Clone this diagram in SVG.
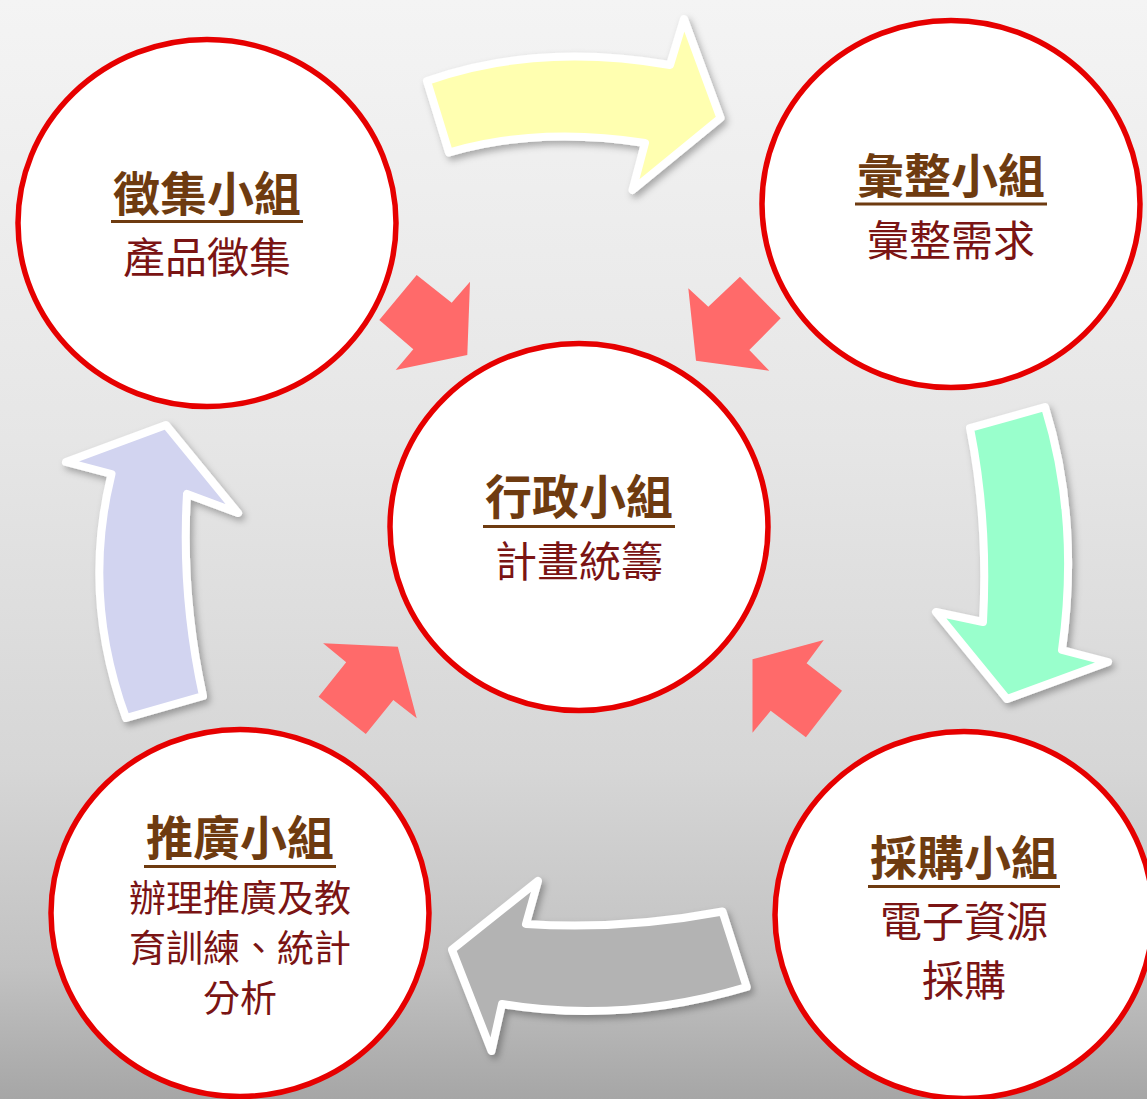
<svg xmlns="http://www.w3.org/2000/svg" width="1147" height="1099" viewBox="0 0 1147 1099">
  <defs>
    <linearGradient id="bg" x1="0" y1="0" x2="0" y2="1">
      <stop offset="0" stop-color="#F4F4F4"/>
      <stop offset="0.4" stop-color="#E6E6E6"/>
      <stop offset="0.7" stop-color="#D6D6D6"/>
      <stop offset="0.88" stop-color="#C2C2C2"/>
      <stop offset="1" stop-color="#A6A6A6"/>
    </linearGradient>
    <filter id="shadow" x="-20%" y="-20%" width="140%" height="140%">
      <feDropShadow dx="3" dy="4" stdDeviation="3.5" flood-color="#000" flood-opacity="0.3"/>
    </filter>
    <style>
      .ring { fill: #FFFFFF; stroke: #E60000; stroke-width: 5.5; }
      .big { stroke: #FFFFFF; stroke-width: 8; stroke-linejoin: round; filter: url(#shadow); }
      .red { fill: #FF6A6A; }
      .title { font-family: "Liberation Sans", "Noto Sans CJK TC", sans-serif; font-weight: bold; font-size: 47px; fill: #6E3B10; text-anchor: middle; }
      .sub { font-family: "Liberation Sans", "Noto Sans CJK TC", sans-serif; font-size: 42px; fill: #7A1414; text-anchor: middle; }
      .sub2 { font-family: "Liberation Sans", "Noto Sans CJK TC", sans-serif; font-size: 37px; fill: #7A1414; text-anchor: middle; }
      .ul { stroke: #6E3B10; stroke-width: 3; }
    </style>
  </defs>

  <rect x="0" y="0" width="1147" height="1099" fill="url(#bg)"/>

  <g id="connectors">
    <path class="big" fill="#FFFFB0" d="M427,81 Q537.5,42 670,65 L684,19 L720.5,118 L632.5,190 L645,143 Q539,126.25 449,152.5 Z"/>
    <path class="big" fill="#99FFCC" d="M970,428 L1045,407 Q1080,520 1062,650 L1108,662 L1007,699 L936,612 L983,622 Q988.5,521 970,428 Z"/>
    <path class="big" fill="#B3B3B3" d="M722.5,911.5 L746.7,987 Q622.25,1024.1 502,1004 L491.5,1051 L452,949.7 L538,881 L526,924 Q622.4,930.25 722.5,911.5 Z"/>
    <path class="big" fill="#D2D4F0" d="M126,718 Q81.25,596 111.5,474 L66,462 L166,425 L238,513 L187,494 Q181,595 203,696 Z"/>
    <polygon class="red" points="416.7,275 451.7,302.7 470,281.7 467.3,355 395.7,370 413.3,349.3 379.3,320"/>
    <polygon class="red" points="688.3,288.3 708.3,306.7 740,276.7 780.7,318.3 749.3,350 769.3,370.7 696,360.7"/>
    <polygon class="red" points="323.1,643.3 397.8,646.7 416.7,718.3 393.3,700 365.8,734 318.6,696.7 346.2,662.3"/>
    <polygon class="red" points="823.8,640 806.6,663.3 842,690.7 805.9,737.3 770.7,710.7 752.5,732.7 752.5,659.3"/>
  </g>

  <g id="node-collect">
    <ellipse class="ring" cx="207" cy="223" rx="189" ry="183.5"/>
    <text class="title" x="207" y="211">徵集小組</text>
    <line class="ul" x1="111" y1="221.5" x2="303" y2="221.5"/>
    <text class="sub" x="207" y="273">產品徵集</text>
  </g>

  <g id="node-compile">
    <ellipse class="ring" cx="951" cy="204" rx="189" ry="183.5"/>
    <text class="title" x="951" y="193">彙整小組</text>
    <line class="ul" x1="855" y1="204" x2="1047" y2="204"/>
    <text class="sub" x="951" y="256">彙整需求</text>
  </g>

  <g id="node-admin">
    <ellipse class="ring" cx="579" cy="527" rx="189" ry="183.5"/>
    <text class="title" x="579" y="514">行政小組</text>
    <line class="ul" x1="483" y1="526.5" x2="675" y2="526.5"/>
    <text class="sub" x="579" y="577">計畫統籌</text>
  </g>

  <g id="node-promote">
    <ellipse class="ring" cx="240" cy="913" rx="189" ry="183.5"/>
    <text class="title" x="240" y="855">推廣小組</text>
    <line class="ul" x1="144" y1="866.5" x2="336" y2="866.5"/>
    <text class="sub2" x="240" y="912">辦理推廣及教</text>
    <text class="sub2" x="240" y="961.5">育訓練、統計</text>
    <text class="sub2" x="240" y="1012">分析</text>
  </g>

  <g id="node-purchase">
    <ellipse class="ring" cx="964" cy="915" rx="189" ry="183.5"/>
    <text class="title" x="964" y="875">採購小組</text>
    <line class="ul" x1="868" y1="886.5" x2="1060" y2="886.5"/>
    <text class="sub" x="964" y="937">電子資源</text>
    <text class="sub" x="964" y="995.5">採購</text>
  </g>
</svg>
